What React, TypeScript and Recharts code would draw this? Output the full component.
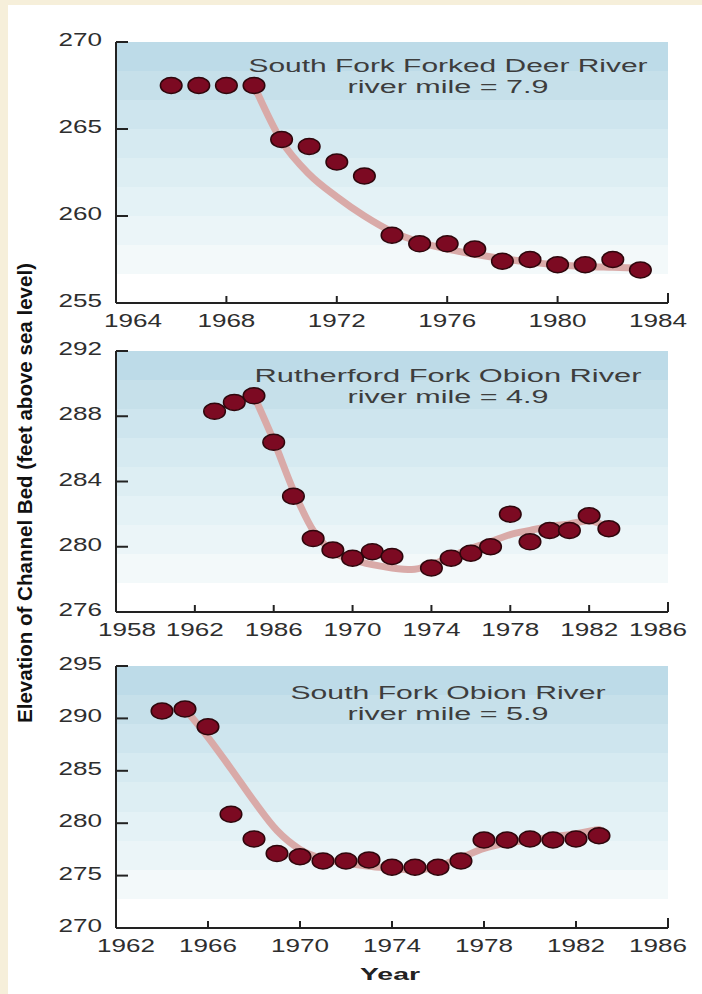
import React from 'react';
import { ComposedChart, Scatter, Line, XAxis, YAxis, CartesianGrid } from 'recharts';

// South Fork Forked Deer River, river mile 7.9
const deerYears = [1966, 1967, 1968, 1969, 1970, 1971, 1972, 1973, 1974, 1975, 1976, 1977, 1978, 1979, 1980, 1981, 1982, 1983];
const deerElev = [267.5, 267.5, 267.5, 267.5, 264.4, 264.0, 263.1, 262.3, 258.9, 258.4, 258.4, 258.1, 257.4, 257.5, 257.2, 257.2, 257.5, 256.9];
const deerTrendYears = [1969, 1970, 1971, 1972, 1973, 1974, 1975, 1976, 1977, 1978, 1979, 1980, 1981, 1982, 1983];
const deerTrendElev = [267.5, 264.3, 262.4, 261.1, 260.0, 259.1, 258.5, 258.1, 257.8, 257.55, 257.35, 257.2, 257.1, 257.05, 257.0];
const deerXTicks = [1964, 1968, 1972, 1976, 1980, 1984];
const deerXLabels = ['1964', '1968', '1972', '1976', '1980', '1984'];
const deerYTicks = [255, 260, 265, 270];

// Rutherford Fork Obion River, river mile 4.9
const ruthYears = [1963, 1964, 1965, 1966, 1967, 1968, 1969, 1970, 1971, 1972, 1974, 1975, 1976, 1977, 1978, 1979, 1980, 1981, 1982, 1983];
const ruthElev = [288.3, 288.85, 289.25, 286.4, 283.1, 280.5, 279.8, 279.3, 279.7, 279.4, 278.7, 279.3, 279.6, 280.0, 282.0, 280.3, 281.0, 281.0, 281.9, 281.1];
const ruthTrendYears = [1965, 1966, 1967, 1968, 1969, 1970, 1971, 1972, 1973, 1974, 1975, 1976, 1977, 1978, 1979, 1980, 1981, 1982, 1983];
const ruthTrendElev = [289.25, 286.5, 283.45, 281.0, 279.7, 279.2, 278.9, 278.7, 278.6, 278.9, 279.4, 279.9, 280.3, 280.75, 281.0, 281.25, 281.4, 281.6, 281.15];
const ruthXTicks = [1958, 1962, 1966, 1970, 1974, 1978, 1982, 1986];
// the printed figure labels the 1966 tick "1986"
const ruthXLabels = ['1958', '1962', '1986', '1970', '1974', '1978', '1982', '1986'];
const ruthYTicks = [276, 280, 284, 288, 292];

// South Fork Obion River, river mile 5.9
const obionYears = [1964, 1965, 1966, 1967, 1968, 1969, 1970, 1971, 1972, 1973, 1974, 1975, 1976, 1977, 1978, 1979, 1980, 1981, 1982, 1983];
const obionElev = [290.7, 290.9, 289.2, 280.85, 278.5, 277.1, 276.8, 276.4, 276.4, 276.5, 275.8, 275.8, 275.8, 276.4, 278.4, 278.4, 278.5, 278.4, 278.5, 278.8];
const obionTrendYears = [1965, 1966, 1967, 1968, 1969, 1970, 1971, 1972, 1973, 1974, 1975, 1976, 1977, 1978, 1979, 1980, 1981, 1982, 1983];
const obionTrendElev = [290.9, 288.2, 285.2, 282.1, 279.3, 277.5, 276.6, 276.2, 275.9, 275.7, 275.5, 275.9, 276.7, 277.6, 278.1, 278.4, 278.7, 279.0, 279.4];
const obionXTicks = [1962, 1966, 1970, 1974, 1978, 1982, 1986];
const obionXLabels = ['1962', '1966', '1970', '1974', '1978', '1982', '1986'];
const obionYTicks = [270, 275, 280, 285, 290, 295];

const BANDS = ['#bddbe8', '#c6e0ea', '#cee5ee', '#d6eaf1', '#ddeef3', '#e4f2f6', '#ebf5f8', '#f3f9fa', '#ffffff'];
const FONT = '"Liberation Sans", Arial, sans-serif';
const INK = '#222';

const toRows = (years: number[], elev: number[]) => years.map((year, i) => ({ year, elev: elev[i] }));

function Dot(props: any) {
  const { cx, cy } = props;
  if (cx == null || cy == null) return null;
  return <ellipse cx={cx} cy={cy} rx={10.8} ry={8} fill="#7c0a22" stroke="#2e060c" strokeWidth={1.5} />;
}

// tick digits in the figure are stretched sideways, about 14.5px per digit
const labelWidth = (s: string) => s.length * 14.5;

function XTick(props: any) {
  const { x, y, payload, ticks, labels, firstShift } = props;
  const i = ticks.indexOf(payload.value);
  const last = i === ticks.length - 1;
  const dx = i === 0 ? firstShift : last ? -10 : 0;
  const s = labels[i];
  return (
    <g>
      {i > 0 && <line x1={x} x2={x} y1={y} y2={y - (last ? 10 : 7)} stroke={INK} strokeWidth={2} />}
      <text
        x={x + dx}
        y={y + 24}
        textAnchor="middle"
        fontSize={19}
        fontFamily={FONT}
        fill="#2e2e2e"
        textLength={labelWidth(s)}
        lengthAdjust="spacingAndGlyphs"
      >
        {s}
      </text>
    </g>
  );
}

function YTick(props: any) {
  const { x, y, payload } = props;
  const s = String(payload.value);
  return (
    <g>
      <line x1={x} x2={x + 12} y1={y} y2={y} stroke={INK} strokeWidth={2} />
      <text
        x={x - 14}
        y={y + 4}
        textAnchor="end"
        fontSize={19}
        fontFamily={FONT}
        fill="#2e2e2e"
        textLength={labelWidth(s)}
        lengthAdjust="spacingAndGlyphs"
      >
        {s}
      </text>
    </g>
  );
}

interface PanelProps {
  plotTop: number;
  plotBottom: number;
  xTicks: number[];
  xLabels: string[];
  yTicks: number[];
  points: { year: number; elev: number }[];
  trend: { year: number; elev: number }[];
  firstShift: number;
}

function Panel({ plotTop, plotBottom, xTicks, xLabels, yTicks, points, trend, firstShift }: PanelProps) {
  const top = plotTop - 40;
  const height = plotBottom - plotTop + 80;
  return (
    <div style={{ position: 'absolute', left: 0, top, width: 702, height }}>
      <ComposedChart width={702} height={height} margin={{ top: 40, right: 34, bottom: 10, left: 0 }}>
        <CartesianGrid horizontal={false} vertical={false} fill="url(#bands)" fillOpacity={1} />
        <XAxis
          dataKey="year"
          type="number"
          domain={[xTicks[0], xTicks[xTicks.length - 1]]}
          ticks={xTicks}
          interval={0}
          height={30}
          tickSize={0}
          tickMargin={0}
          tickLine={false}
          axisLine={{ stroke: INK, strokeWidth: 2 }}
          tick={(p: any) => <XTick {...p} ticks={xTicks} labels={xLabels} firstShift={firstShift} />}
          allowDataOverflow
        />
        <YAxis
          dataKey="elev"
          type="number"
          domain={[yTicks[0], yTicks[yTicks.length - 1]]}
          ticks={yTicks}
          interval={0}
          width={116}
          tickSize={0}
          tickMargin={0}
          tickLine={false}
          axisLine={{ stroke: INK, strokeWidth: 2 }}
          tick={(p: any) => <YTick {...p} />}
          allowDataOverflow
        />
        <Line
          data={trend}
          dataKey="elev"
          type="monotone"
          stroke="#d9aaa8"
          strokeWidth={7}
          strokeLinecap="round"
          dot={false}
          activeDot={false}
          isAnimationActive={false}
        />
        <Scatter data={points} dataKey="elev" shape={Dot} isAnimationActive={false} />
      </ComposedChart>
    </div>
  );
}

function Title({ cx, y, line1, w1, line2, w2 }: { cx: number; y: number; line1: string; w1: number; line2: string; w2: number }) {
  return (
    <g fontFamily={FONT} fontSize={18} fill="#3d3d3d" textAnchor="middle">
      <text x={cx} y={y} textLength={w1} lengthAdjust="spacingAndGlyphs">{line1}</text>
      <text x={cx} y={y + 21} textLength={w2} lengthAdjust="spacingAndGlyphs">{line2}</text>
    </g>
  );
}

export default function App() {
  const n = BANDS.length;
  return (
    <div style={{ position: 'absolute', left: 0, top: 0, width: 702, height: 994, background: '#f6efda', overflow: 'hidden' }}>
      <div style={{ position: 'absolute', left: 8, top: 5, width: 694, height: 989, background: '#fff' }} />
      <svg width={0} height={0} style={{ position: 'absolute' }}>
        <defs>
          <linearGradient id="bands" x1="0" y1="0" x2="0" y2="1">
            {BANDS.flatMap((c, i) => [
              <stop key={`${i}a`} offset={i / n} stopColor={c} />,
              <stop key={`${i}b`} offset={(i + 1) / n} stopColor={c} />,
            ])}
          </linearGradient>
        </defs>
      </svg>
      <Panel
        plotTop={42}
        plotBottom={303}
        xTicks={deerXTicks}
        xLabels={deerXLabels}
        yTicks={deerYTicks}
        points={toRows(deerYears, deerElev)}
        trend={toRows(deerTrendYears, deerTrendElev)}
        firstShift={17}
      />
      <Panel
        plotTop={351}
        plotBottom={612}
        xTicks={ruthXTicks}
        xLabels={ruthXLabels}
        yTicks={ruthYTicks}
        points={toRows(ruthYears, ruthElev)}
        trend={toRows(ruthTrendYears, ruthTrendElev)}
        firstShift={11}
      />
      <Panel
        plotTop={666}
        plotBottom={928}
        xTicks={obionXTicks}
        xLabels={obionXLabels}
        yTicks={obionYTicks}
        points={toRows(obionYears, obionElev)}
        trend={toRows(obionTrendYears, obionTrendElev)}
        firstShift={10}
      />
      <svg width={702} height={994} style={{ position: 'absolute', left: 0, top: 0, pointerEvents: 'none' }}>
        <Title cx={448} y={72} line1="South Fork Forked Deer River" w1={399} line2="river mile = 7.9" w2={201} />
        <Title cx={448} y={382} line1="Rutherford Fork Obion River" w1={387} line2="river mile = 4.9" w2={201} />
        <Title cx={448} y={699} line1="South Fork Obion River" w1={315} line2="river mile = 5.9" w2={201} />
        <text
          transform="translate(32,493) rotate(-90)"
          textAnchor="middle"
          fontFamily={FONT}
          fontWeight="bold"
          fontSize={21}
          fill="#111"
          textLength={460}
          lengthAdjust="spacingAndGlyphs"
        >
          Elevation of Channel Bed (feet above sea level)
        </text>
        <text
          x={390}
          y={980}
          textAnchor="middle"
          fontFamily={FONT}
          fontWeight="bold"
          fontSize={17}
          fill="#222"
          textLength={60}
          lengthAdjust="spacingAndGlyphs"
        >
          Year
        </text>
      </svg>
    </div>
  );
}
